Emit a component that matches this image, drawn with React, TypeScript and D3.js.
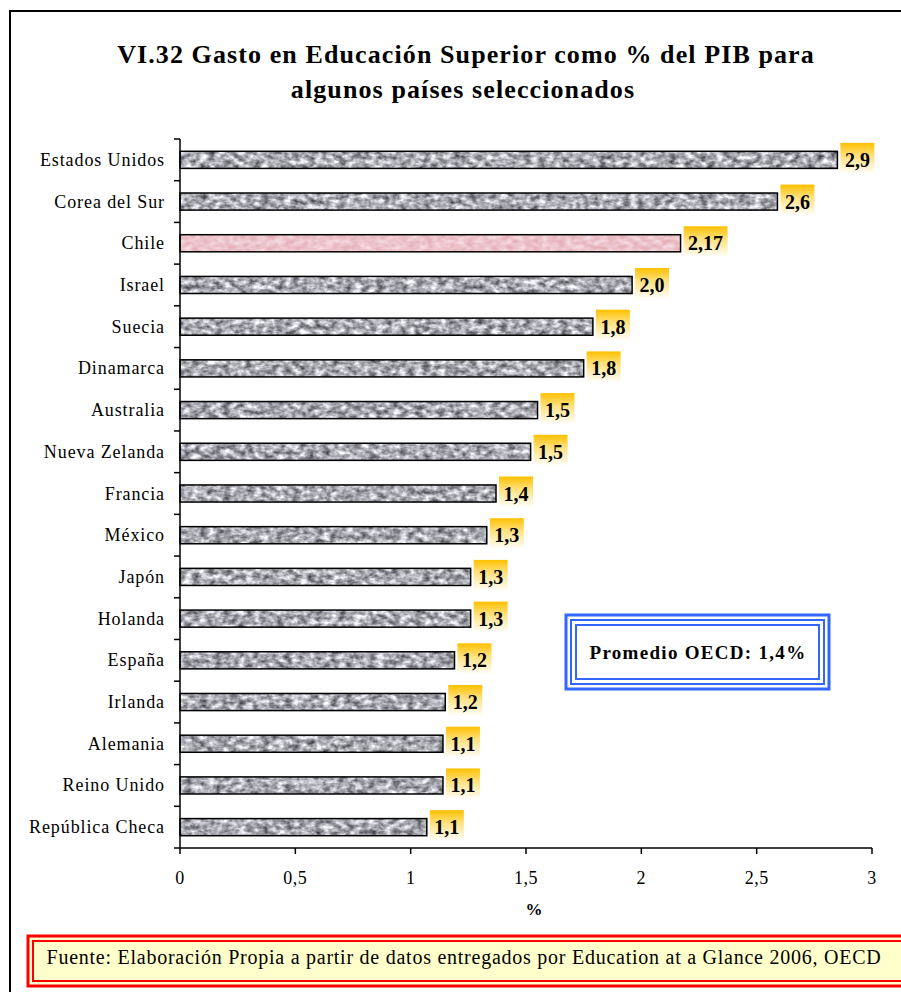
import * as d3 from 'd3';

const countries = [
  'Estados Unidos', 'Corea del Sur', 'Chile ', 'Israel', 'Suecia', 'Dinamarca',
  'Australia', 'Nueva Zelanda', 'Francia', 'México', 'Japón', 'Holanda',
  'España', 'Irlanda', 'Alemania', 'Reino Unido', 'República Checa',
];
const values = [2.85, 2.59, 2.17, 1.96, 1.79, 1.75, 1.55, 1.52, 1.37, 1.33, 1.26, 1.26, 1.19, 1.15, 1.14, 1.14, 1.07];
const valueLabels = ['2,9', '2,6', '2,17', '2,0', '1,8', '1,8', '1,5', '1,5', '1,4', '1,3', '1,3', '1,3', '1,2', '1,2', '1,1', '1,1', '1,1'];
const xTicks = [0, 0.5, 1, 1.5, 2, 2.5, 3];
const xTickLabels = ['0', '0,5', '1', '1,5', '2', '2,5', '3'];
const highlight = 'Chile ';

const W = 901;
const H = 992;
const PLOT = { left: 180, right: 872, top: 139, bottom: 848 };
const SERIF = '"Liberation Serif", "Times New Roman", serif';

export default function App() {
  const x = d3.scaleLinear().domain([0, 3]).range([PLOT.left, PLOT.right]);
  const y = d3.scaleBand<string>().domain(countries).range([PLOT.top, PLOT.bottom]).paddingInner(0.59).paddingOuter(0.295);
  const bh = y.bandwidth();
  const boundaries = d3.range(countries.length + 1).map(i => PLOT.top + i * (PLOT.bottom - PLOT.top) / countries.length);

  return (
    <svg width={W} height={H} style={{ position: 'absolute', left: 0, top: 0, background: '#fff' }} fontFamily={SERIF}>
      <defs>
        <filter id="grain" x="0" y="0" width="100%" height="100%" colorInterpolationFilters="sRGB">
          <feTurbulence type="fractalNoise" baseFrequency="0.13 0.2" numOctaves="3" seed="3" result="n" />
          <feGaussianBlur in="n" stdDeviation="0.6" result="nb" />
          <feColorMatrix in="nb" type="matrix" values="1.1 0 0 0 0.12  1.1 0 0 0 0.12  1.1 0 0 0 0.15  0 0 0 0 1" result="g" />
          <feComposite in="g" in2="SourceGraphic" operator="in" />
        </filter>
        <filter id="grainPink" x="0" y="0" width="100%" height="100%" colorInterpolationFilters="sRGB">
          <feTurbulence type="fractalNoise" baseFrequency="0.12 0.2" numOctaves="2" seed="5" result="n" />
          <feGaussianBlur in="n" stdDeviation="0.6" result="nb" />
          <feColorMatrix in="nb" type="matrix" values="0.12 0 0 0 0.87  0.3 0 0 0 0.62  0.3 0 0 0 0.65  0 0 0 0 1" result="g" />
          <feComposite in="g" in2="SourceGraphic" operator="in" />
        </filter>
        <linearGradient id="gold" x1="0" y1="0" x2="0" y2="1">
          <stop offset="0%" stopColor="#FFC000" />
          <stop offset="40%" stopColor="#FFE07A" />
          <stop offset="100%" stopColor="#FFFFFF" />
        </linearGradient>
      </defs>

      {/* outer frame */}
      <rect x={10} y={11} width={W + 20} height={H + 20} fill="none" stroke="#000" strokeWidth={2} />

      {/* title */}
      <text x={466} y={63} textAnchor="middle" fontSize={26} fontWeight="bold" letterSpacing={1.1}>VI.32 Gasto en Educación Superior como % del PIB para</text>
      <text x={463} y={98} textAnchor="middle" fontSize={26} fontWeight="bold" letterSpacing={1.1}>algunos países seleccionados</text>

      {/* bars */}
      {countries.map((c, i) => {
        const y0 = y(c)!;
        const xe = x(values[i]);
        const lw = valueLabels[i].length === 4 ? 44 : 34;
        return (
          <g key={c}>
            <rect x={x(0)} y={y0} width={xe - x(0)} height={bh} fill="#fff" filter={c === highlight ? 'url(#grainPink)' : 'url(#grain)'} />
            <rect x={x(0)} y={y0} width={xe - x(0)} height={bh} fill="none" stroke="#000" strokeWidth={1.5} />
            <rect x={xe + 3} y={y0 + bh / 2 - 17} width={lw} height={31} fill="url(#gold)" />
            <text x={xe + 3 + lw / 2} y={y0 + bh / 2 + 7} textAnchor="middle" fontSize={20} fontWeight="bold">{valueLabels[i]}</text>
            <text x={165} y={y0 + bh / 2 + 6} textAnchor="end" fontSize={18} letterSpacing={0.9}>{c}</text>
          </g>
        );
      })}

      {/* y axis */}
      <line x1={PLOT.left} x2={PLOT.left} y1={PLOT.top} y2={PLOT.bottom} stroke="#000" strokeWidth={1.5} />
      {boundaries.slice(0, -1).map((b, i) => (
        <line key={i} x1={PLOT.left - 6} x2={PLOT.left} y1={b} y2={b} stroke="#000" strokeWidth={1.5} />
      ))}

      {/* x axis */}
      <line x1={PLOT.left - 6} x2={PLOT.right} y1={PLOT.bottom} y2={PLOT.bottom} stroke="#000" strokeWidth={1.5} />
      {xTicks.map((t, i) => (
        <g key={t}>
          <line x1={x(t)} x2={x(t)} y1={PLOT.bottom} y2={PLOT.bottom + 6} stroke="#000" strokeWidth={1.5} />
          <text x={x(t)} y={PLOT.bottom + 36} textAnchor="middle" fontSize={18} letterSpacing={0.5}>{xTickLabels[i]}</text>
        </g>
      ))}
      <text x={534} y={915} textAnchor="middle" fontSize={17} fontWeight="bold">%</text>

      {/* OECD average box */}
      <rect x={566} y={615} width={263} height={74} fill="#fff" stroke="#3366FF" strokeWidth={3} />
      <rect x={571} y={620} width={253} height={64} fill="none" stroke="#3366FF" strokeWidth={2} />
      <rect x={576} y={625} width={243} height={54} fill="none" stroke="#3366FF" strokeWidth={2} />
      <text x={698} y={659} textAnchor="middle" fontSize={19} fontWeight="bold" letterSpacing={1.3}>Promedio OECD: 1,4%</text>

      {/* footer */}
      <rect x={28} y={936} width={890} height={50} fill="#FFFFCC" stroke="#FF0000" strokeWidth={3} />
      <rect x={33} y={941} width={880} height={40} fill="none" stroke="#FF0000" strokeWidth={2} />
      <text x={464} y={964} textAnchor="middle" fontSize={20} letterSpacing={0.75}>Fuente: Elaboración Propia a partir de datos entregados por Education at a Glance 2006, OECD</text>
    </svg>
  );
}
